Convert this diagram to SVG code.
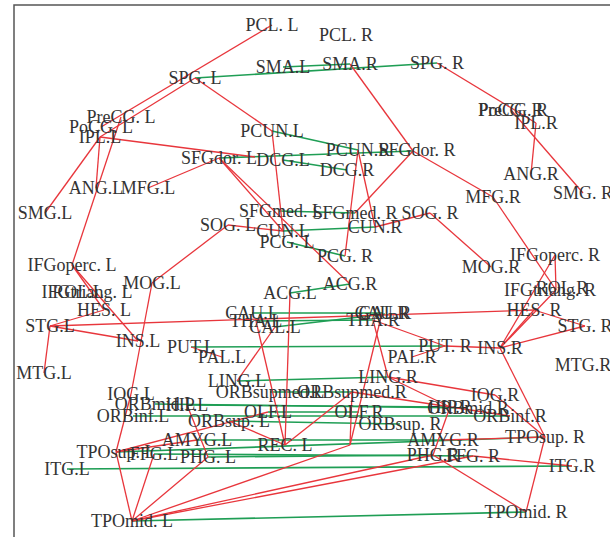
<svg xmlns="http://www.w3.org/2000/svg" width="610" height="537" viewBox="0 0 610 537">
<style>
.r{stroke:#e8363c;stroke-width:1.3;fill:none}
.g{stroke:#1f9e55;stroke-width:1.6;fill:none}
text{font-family:"Liberation Serif","Times New Roman",serif;font-size:18px;fill:#333;text-anchor:middle}
</style>
<rect x="0" y="0" width="610" height="537" fill="#fff"/>
<path d="M14,537 V5 H610" stroke="#555" stroke-width="1.5" fill="none"/>
<g id="edges">
<g class="g">
<line x1="195" y1="78" x2="437" y2="63"/>
<line x1="283" y1="67" x2="350" y2="64"/>
<line x1="272" y1="131" x2="358" y2="150"/>
<line x1="219" y1="158" x2="413" y2="151"/>
<line x1="283" y1="160" x2="347" y2="170"/>
<line x1="279" y1="211" x2="355" y2="213"/>
<line x1="283" y1="231" x2="375" y2="227"/>
<line x1="287" y1="242" x2="345" y2="256"/>
<line x1="290" y1="293" x2="350" y2="284"/>
<line x1="252" y1="313" x2="382" y2="313"/>
<line x1="256" y1="321" x2="373" y2="320"/>
<line x1="275" y1="327" x2="385" y2="314"/>
<line x1="191" y1="347" x2="445" y2="346"/>
<line x1="237" y1="381" x2="388" y2="377"/>
<line x1="270" y1="392" x2="352" y2="392"/>
<line x1="155" y1="404" x2="468" y2="408"/>
<line x1="187" y1="405" x2="450" y2="407"/>
<line x1="268" y1="412" x2="359" y2="412"/>
<line x1="133" y1="416" x2="510" y2="416"/>
<line x1="229" y1="421" x2="400" y2="424"/>
<line x1="197" y1="440" x2="443" y2="440"/>
<line x1="116" y1="452" x2="545" y2="437"/>
<line x1="154" y1="454" x2="473" y2="456"/>
<line x1="208" y1="457" x2="433" y2="455"/>
<line x1="67" y1="469" x2="572" y2="466"/>
<line x1="132" y1="521" x2="526" y2="512"/>
</g>
<g class="r">
<line x1="272" y1="25" x2="101" y2="127"/>
<line x1="195" y1="78" x2="100" y2="137"/>
<line x1="195" y1="78" x2="272" y2="131"/>
<line x1="121" y1="117" x2="72" y2="265"/>
<line x1="100" y1="137" x2="96" y2="188"/>
<line x1="100" y1="137" x2="45" y2="213"/>
<line x1="100" y1="137" x2="255" y2="157"/>
<line x1="148" y1="188" x2="219" y2="158"/>
<line x1="219" y1="158" x2="350" y2="284"/>
<line x1="219" y1="158" x2="283" y2="231"/>
<line x1="272" y1="131" x2="283" y2="231"/>
<line x1="228" y1="225" x2="152" y2="283"/>
<line x1="228" y1="225" x2="283" y2="231"/>
<line x1="152" y1="283" x2="131" y2="394"/>
<line x1="72" y1="265" x2="138" y2="341"/>
<line x1="72" y1="265" x2="104" y2="310"/>
<line x1="50" y1="326" x2="104" y2="310"/>
<line x1="50" y1="326" x2="138" y2="341"/>
<line x1="50" y1="326" x2="44" y2="373"/>
<line x1="50" y1="326" x2="534" y2="310"/>
<line x1="191" y1="347" x2="222" y2="357"/>
<line x1="237" y1="381" x2="275" y2="327"/>
<line x1="256" y1="321" x2="285" y2="445"/>
<line x1="290" y1="293" x2="285" y2="445"/>
<line x1="285" y1="445" x2="352" y2="392"/>
<line x1="285" y1="445" x2="229" y2="421"/>
<line x1="131" y1="394" x2="116" y2="452"/>
<line x1="116" y1="452" x2="132" y2="521"/>
<line x1="116" y1="452" x2="268" y2="412"/>
<line x1="116" y1="452" x2="197" y2="440"/>
<line x1="187" y1="405" x2="208" y2="457"/>
<line x1="132" y1="521" x2="154" y2="454"/>
<line x1="132" y1="521" x2="208" y2="457"/>
<line x1="132" y1="521" x2="350" y2="445"/>
<line x1="132" y1="521" x2="433" y2="455"/>
<line x1="132" y1="521" x2="473" y2="456"/>
<line x1="350" y1="64" x2="413" y2="151"/>
<line x1="437" y1="63" x2="536" y2="123"/>
<line x1="511" y1="110" x2="583" y2="193"/>
<line x1="536" y1="123" x2="531" y2="174"/>
<line x1="413" y1="151" x2="493" y2="197"/>
<line x1="413" y1="151" x2="355" y2="213"/>
<line x1="358" y1="150" x2="345" y2="256"/>
<line x1="358" y1="150" x2="375" y2="227"/>
<line x1="375" y1="227" x2="430" y2="213"/>
<line x1="430" y1="213" x2="491" y2="267"/>
<line x1="493" y1="197" x2="556" y2="290"/>
<line x1="555" y1="255" x2="556" y2="290"/>
<line x1="555" y1="255" x2="500" y2="348"/>
<line x1="556" y1="290" x2="500" y2="348"/>
<line x1="534" y1="310" x2="500" y2="348"/>
<line x1="534" y1="310" x2="585" y2="326"/>
<line x1="500" y1="348" x2="585" y2="326"/>
<line x1="445" y1="346" x2="500" y2="348"/>
<line x1="373" y1="320" x2="445" y2="346"/>
<line x1="412" y1="357" x2="445" y2="346"/>
<line x1="500" y1="348" x2="545" y2="437"/>
<line x1="545" y1="437" x2="526" y2="512"/>
<line x1="433" y1="455" x2="526" y2="512"/>
<line x1="473" y1="456" x2="572" y2="466"/>
<line x1="545" y1="437" x2="443" y2="440"/>
<line x1="388" y1="377" x2="495" y2="395"/>
<line x1="495" y1="395" x2="545" y2="437"/>
<line x1="388" y1="377" x2="450" y2="407"/>
<line x1="450" y1="407" x2="433" y2="455"/>
<line x1="382" y1="313" x2="350" y2="445"/>
<line x1="373" y1="320" x2="388" y2="377"/>
<line x1="350" y1="445" x2="352" y2="392"/>
<line x1="352" y1="392" x2="510" y2="416"/>
</g>
</g>
<g id="n-PCL_L"><text x="272" y="31">PCL. L</text></g>
<g id="n-SMA_L"><text x="283" y="73">SMA.L</text></g>
<g id="n-SPG_L"><text x="195" y="84">SPG. L</text></g>
<g id="n-PreCG_L"><text x="121" y="123">PreCG. L</text></g>
<g id="n-PoCG_L"><text x="101" y="133">PoCG. L</text></g>
<g id="n-IPL_L"><text x="100" y="143">IPL.L</text></g>
<g id="n-PCUN_L"><text x="272" y="137">PCUN.L</text></g>
<g id="n-SFGdor_L"><text x="219" y="164">SFGdor. L</text></g>
<g id="n-DCG_L"><text x="283" y="166">DCG.L</text></g>
<g id="n-ANG_L"><text x="96" y="194">ANG.L</text></g>
<g id="n-MFG_L"><text x="148" y="194">MFG.L</text></g>
<g id="n-SMG_L"><text x="45" y="219">SMG.L</text></g>
<g id="n-SFGmed_L"><text x="281" y="217">SFGmed. L</text></g>
<g id="n-SOG_L"><text x="228" y="231">SOG. L</text></g>
<g id="n-CUN_L"><text x="283" y="237">CUN.L</text></g>
<g id="n-PCG_L"><text x="287" y="248">PCG. L</text></g>
<g id="n-IFGoperc_L"><text x="72" y="271">IFGoperc. L</text></g>
<g id="n-MOG_L"><text x="152" y="289">MOG.L</text></g>
<g id="n-IFGtriang_L"><text x="87" y="298">IFGtriang. L</text></g>
<g id="n-ROL_L"><text x="78" y="298">ROL.L</text></g>
<g id="n-ACG_L"><text x="290" y="299">ACG.L</text></g>
<g id="n-HES_L"><text x="104" y="316">HES. L</text></g>
<g id="n-CAU_L"><text x="252" y="319">CAU.L</text></g>
<g id="n-THA_L"><text x="256" y="327">THA.L</text></g>
<g id="n-STG_L"><text x="50" y="332">STG.L</text></g>
<g id="n-CAL_L"><text x="275" y="333">CAL.L</text></g>
<g id="n-INS_L"><text x="138" y="347">INS.L</text></g>
<g id="n-PUT_L"><text x="191" y="353">PUT.L</text></g>
<g id="n-PAL_L"><text x="222" y="363">PAL.L</text></g>
<g id="n-MTG_L"><text x="44" y="379">MTG.L</text></g>
<g id="n-LING_L"><text x="237" y="387">LING.L</text></g>
<g id="n-ORBsupmed_L"><text x="270" y="398">ORBsupmed.L</text></g>
<g id="n-IOG_L"><text x="131" y="400">IOG.L</text></g>
<g id="n-ORBmid_L"><text x="155" y="410">ORBmid.L</text></g>
<g id="n-HIP_L"><text x="187" y="411">HIP.L</text></g>
<g id="n-ORBinf_L"><text x="133" y="422">ORBinf.L</text></g>
<g id="n-OLF_L"><text x="268" y="418">OLF.L</text></g>
<g id="n-ORBsup_L"><text x="229" y="427">ORBsup. L</text></g>
<g id="n-AMYG_L"><text x="197" y="446">AMYG.L</text></g>
<g id="n-REC_L"><text x="285" y="451">REC. L</text></g>
<g id="n-TPOsup_L"><text x="116" y="458">TPOsup. L</text></g>
<g id="n-FFG_L"><text x="154" y="460">FFG.L</text></g>
<g id="n-PHG_L"><text x="208" y="463">PHG. L</text></g>
<g id="n-ITG_L"><text x="67" y="475">ITG.L</text></g>
<g id="n-TPOmid_L"><text x="132" y="527">TPOmid. L</text></g>
<g id="n-PCL_R"><text x="346" y="41">PCL. R</text></g>
<g id="n-SMA_R"><text x="350" y="70">SMA.R</text></g>
<g id="n-SPG_R"><text x="437" y="69">SPG. R</text></g>
<g id="n-PreCG_R"><text x="513" y="116">PreCG. R</text></g>
<g id="n-PoCG_R"><text x="511" y="116">PoCG. R</text></g>
<g id="n-IPL_R"><text x="536" y="129">IPL.R</text></g>
<g id="n-PCUN_R"><text x="358" y="156">PCUN.R</text></g>
<g id="n-SFGdor_R"><text x="417" y="156">SFGdor. R</text></g>
<g id="n-DCG_R"><text x="347" y="176">DCG.R</text></g>
<g id="n-ANG_R"><text x="531" y="180">ANG.R</text></g>
<g id="n-SMG_R"><text x="583" y="199">SMG. R</text></g>
<g id="n-MFG_R"><text x="493" y="203">MFG.R</text></g>
<g id="n-SFGmed_R"><text x="355" y="219">SFGmed. R</text></g>
<g id="n-SOG_R"><text x="430" y="219">SOG. R</text></g>
<g id="n-CUN_R"><text x="375" y="233">CUN.R</text></g>
<g id="n-PCG_R"><text x="345" y="262">PCG. R</text></g>
<g id="n-IFGoperc_R"><text x="555" y="261">IFGoperc. R</text></g>
<g id="n-MOG_R"><text x="491" y="273">MOG.R</text></g>
<g id="n-ACG_R"><text x="350" y="290">ACG.R</text></g>
<g id="n-IFGtriang_R"><text x="550" y="296">IFGtriang. R</text></g>
<g id="n-ROL_R"><text x="562" y="294">ROL.R</text></g>
<g id="n-HES_R"><text x="534" y="316">HES. R</text></g>
<g id="n-CAU_R"><text x="382" y="319">CAU.R</text></g>
<g id="n-CAL_R"><text x="385" y="319">CAL.R</text></g>
<g id="n-THA_R"><text x="373" y="326">THA.R</text></g>
<g id="n-STG_R"><text x="585" y="332">STG. R</text></g>
<g id="n-PUT_R"><text x="445" y="352">PUT. R</text></g>
<g id="n-INS_R"><text x="500" y="354">INS.R</text></g>
<g id="n-PAL_R"><text x="412" y="363">PAL.R</text></g>
<g id="n-MTG_R"><text x="583" y="371">MTG.R</text></g>
<g id="n-LING_R"><text x="388" y="383">LING.R</text></g>
<g id="n-ORBsupmed_R"><text x="352" y="398">ORBsupmed.R</text></g>
<g id="n-IOG_R"><text x="495" y="401">IOG.R</text></g>
<g id="n-HIP_R"><text x="450" y="413">HIP.R</text></g>
<g id="n-ORBmid_R"><text x="468" y="414">ORBmid.R</text></g>
<g id="n-OLF_R"><text x="359" y="418">OLF.R</text></g>
<g id="n-ORBinf_R"><text x="510" y="422">ORBinf.R</text></g>
<g id="n-ORBsup_R"><text x="400" y="430">ORBsup. R</text></g>
<g id="n-AMYG_R"><text x="443" y="446">AMYG.R</text></g>
<g id="n-TPOsup_R"><text x="545" y="443">TPOsup. R</text></g>
<g id="n-PHG_R"><text x="433" y="461">PHG.R</text></g>
<g id="n-FFG_R"><text x="473" y="462">FFG. R</text></g>
<g id="n-ITG_R"><text x="572" y="472">ITG.R</text></g>
<g id="n-TPOmid_R"><text x="526" y="518">TPOmid. R</text></g>
</svg>
